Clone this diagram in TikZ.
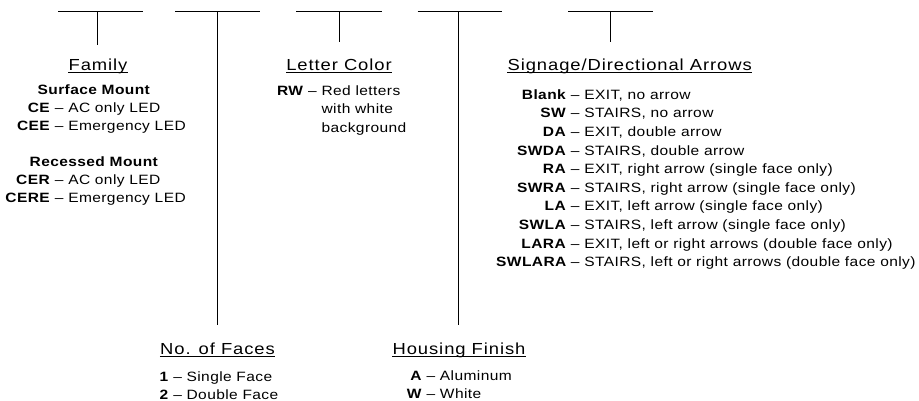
\documentclass[tikz,border=0pt]{standalone}
\usepackage{fontspec}
\usepackage{array}
\setmainfont[FakeStretch=1.15,LetterSpace=3]{Liberation Sans}
\newfontfamily\headfont[FakeStretch=1.15,LetterSpace=5.8]{Liberation Sans}
\newcolumntype{R}[1]{>{\raggedleft\arraybackslash}p{#1}}

\providecommand{\TopBar}[4]{
\coordinate (#1-l) at (#2,11.7);
\coordinate (#1-s) at (#3,11.7);
\coordinate (#1-r) at (#4,11.7);
\draw[rule] (#1-l) -- (#1-r);
}
\providecommand{\HeadLine}[1]{
\draw[rule] ([yshift=-2pt]#1.base west) -- ([yshift=-2pt]#1.base east);
}

\tikzset{
rule/.style={line width=0.9pt,black},
head/.style={anchor=base,inner sep=0pt,font=\headfont\fontsize{16}{18}\selectfont},
codes/.style={anchor=base west,inner sep=0pt}
}

\begin{document}
\begin{tikzpicture}[x=1pt,y=-1pt]
\useasboundingbox (0,0) rectangle (919,401);
\fill[white] (0,0) rectangle (919,401);

\TopBar{fam}{58}{97.7}{143}
\TopBar{face}{175}{217.7}{260}
\TopBar{let}{296}{339}{381.7}
\TopBar{hous}{417.7}{458.3}{501.7}
\TopBar{sig}{568.3}{610.7}{653.3}

\coordinate (fam-e) at (97.7,45);
\coordinate (face-e) at (217.7,325);
\coordinate (let-e) at (339,42);
\coordinate (hous-e) at (458.3,325);
\coordinate (sig-e) at (610.7,42);
\foreach \n in {fam,face,let,hous,sig}
  {\draw[rule] (\n-s) -- (\n-e);}

% headings
\node[head] (famhead) at (98,70.5) {Family};
\node[head] (lethead) at (339,70.5) {Letter Color};
\node[head] (sighead) at (629.7,70.5) {Signage/Directional Arrows};
\node[head] (facehead) at (217.5,354) {No. of Faces};
\node[head] (houshead) at (459,354) {Housing Finish};
\foreach \n in {famhead,lethead,sighead,facehead,houshead}
  {\HeadLine{\n}}

% option lists
\node[codes,font=\fontsize{13.5}{18.1}\selectfont] (famlist) at (2,94.3) {%
\begin{tabular}[t]{@{}R{48pt}@{\ }c@{\ }l@{}}
\multicolumn{3}{@{}c@{}}{\textbf{Surface Mount}}\\
\textbf{CE} & – & AC only LED\\
\textbf{CEE} & – & Emergency LED\\[18.1pt]
\multicolumn{3}{@{}c@{}}{\textbf{Recessed Mount}}\\
\textbf{CER} & – & AC only LED\\
\textbf{CERE} & – & Emergency LED
\end{tabular}};

\node[codes,font=\fontsize{13.5}{18.3}\selectfont] (letlist) at (263.3,95.5) {%
\begin{tabular}[t]{@{}R{40pt}@{\ }c@{\ }l@{}}
\textbf{RW} & – & Red letters\\
 & & with white\\
 & & background
\end{tabular}};

\node[codes,font=\fontsize{13.5}{18.6}\selectfont] (siglist) at (496,99.3) {%
\begin{tabular}[t]{@{}R{70pt}@{\ }c@{\ }l@{}}
\textbf{Blank} & – & EXIT, no arrow\\
\textbf{SW} & – & STAIRS, no arrow\\
\textbf{DA} & – & EXIT, double arrow\\
\textbf{SWDA} & – & STAIRS, double arrow\\
\textbf{RA} & – & EXIT, right arrow (single face only)\\
\textbf{SWRA} & – & STAIRS, right arrow (single face only)\\
\textbf{LA} & – & EXIT, left arrow (single face only)\\
\textbf{SWLA} & – & STAIRS, left arrow (single face only)\\
\textbf{LARA} & – & EXIT, left or right arrows (double face only)\\
\textbf{SWLARA} & – & STAIRS, left or right arrows (double face only)
\end{tabular}};

\node[codes,font=\fontsize{13.5}{18}\selectfont] (facelist) at (159.3,381) {%
\begin{tabular}[t]{@{}l@{}}
\textbf{1} – Single Face\\
\textbf{2} – Double Face
\end{tabular}};

\node[codes,font=\fontsize{13.5}{18.3}\selectfont] (houslist) at (401.7,380) {%
\begin{tabular}[t]{@{}R{20pt}@{\ }c@{\ }l@{}}
\textbf{A} & – & Aluminum\\
\textbf{W} & – & White
\end{tabular}};
\end{tikzpicture}
\end{document}
